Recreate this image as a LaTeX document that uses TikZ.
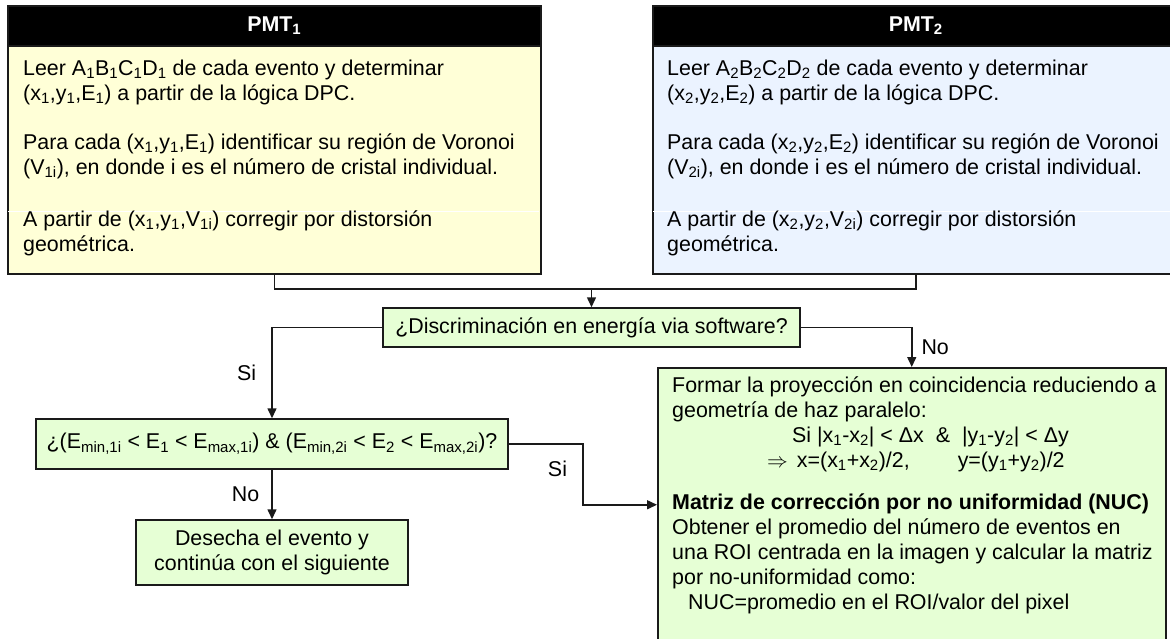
\documentclass[tikz,border=0pt]{standalone}
\usepackage{fontspec}
\setmainfont{Liberation Sans}
\usetikzlibrary{arrows.meta}

\definecolor{pmtone}{HTML}{FFFFD7}
\definecolor{pmttwo}{HTML}{EBF3FF}
\definecolor{decision}{HTML}{E6FFD5}
\definecolor{edge}{HTML}{1A1A1A}

\newcommand{\lo}[1]{\textsubscript{#1}}

\begin{document}
\begin{tikzpicture}[
  x=1pt, y=-1pt,
  every node/.style={font=\fontsize{21.4}{25}\selectfont, inner sep=0pt},
  header/.style={draw=edge, fill=black, text=white, line width=1.5pt, anchor=north west,
    font=\fontsize{21.4}{25}\selectfont\bfseries},
  panel/.style={draw=edge, line width=1.5pt, anchor=north west},
  question/.style={draw=edge, fill=decision, line width=1.5pt, align=center},
  body/.style={align=left, anchor=north west},
  link/.style={draw=edge, line width=1.5pt},
  arrow/.style={link, -{Triangle[length=10pt, width=9pt]}},
  seam/.style={draw=white, line width=0.8pt},
]
\useasboundingbox (0,0) rectangle (1170,638);
\clip (0,0) rectangle (1170,638);

\node[panel, fill=pmtone, minimum width=533pt, minimum height=228pt] (bodyA) at (7,45) {};
\node[header, minimum width=533pt, minimum height=40pt] (headA) at (7,5) {PMT\lo{1}};
\draw[seam] (8,211) -- (539,211);
\node[body] (textA) at (23,57.5) {\strut Leer A\lo{1}B\lo{1}C\lo{1}D\lo{1} de cada evento y determinar\\
  (x\lo{1},y\lo{1},E\lo{1}) a partir de la lógica DPC.\\[24pt]
  Para cada (x\lo{1},y\lo{1},E\lo{1}) identificar su región de Voronoi\\
  (V\lo{1i}), en donde i es el número de cristal individual.\\[27pt]
  A partir de (x\lo{1},y\lo{1},V\lo{1i}) corregir por distorsión\\
  geométrica.};

\node[panel, fill=pmttwo, minimum width=526pt, minimum height=228pt] (bodyB) at (652,45) {};
\node[header, minimum width=526pt, minimum height=40pt] (headB) at (652,5) {PMT\lo{2}};
\draw[seam] (653,211) -- (1170,211);
\node[body] (textB) at (667,57.5) {\strut Leer A\lo{2}B\lo{2}C\lo{2}D\lo{2} de cada evento y determinar\\
  (x\lo{2},y\lo{2},E\lo{2}) a partir de la lógica DPC.\\[24pt]
  Para cada (x\lo{2},y\lo{2},E\lo{2}) identificar su región de Voronoi\\
  (V\lo{2i}), en donde i es el número de cristal individual.\\[27pt]
  A partir de (x\lo{2},y\lo{2},V\lo{2i}) corregir por distorsión\\
  geométrica.};

\node[question, minimum width=417pt, minimum height=39pt] (discr) at (591.5,327.5)
  {¿Discriminación en energía via software?};
\node[question, minimum width=472pt, minimum height=50pt] (energy) at (272,444)
  {¿(E\lo{min,1i} < E\lo{1} < E\lo{max,1i}) \& (E\lo{min,2i} < E\lo{2} < E\lo{max,2i})?};
\node[question, minimum width=272pt, minimum height=65pt] (discard) at (272,552.5)
  {Desecha el evento y\\continúa con el siguiente};

\node[panel, fill=decision, minimum width=508pt, minimum height=274pt] (nuc) at (657,367) {};
\node[body] (textN) at (672,374.5) {\strut Formar la proyección en coincidencia reduciendo a\\
  geometría de haz paralelo:\\
  \hspace*{120pt}Si |x\lo{1}-x\lo{2}| < Δx\hspace*{12pt}\&\hspace*{12pt}|y\lo{1}-y\lo{2}| < Δy\\
  \hspace*{95pt}$\Rightarrow$\hspace*{9pt}x=(x\lo{1}+x\lo{2})/2,\hspace*{48pt}y=(y\lo{1}+y\lo{2})/2\\[17pt]
  \textbf{Matriz de corrección por no uniformidad (NUC)}\\
  Obtener el promedio del número de eventos en\\
  una ROI centrada en la imagen y calcular la matriz\\
  por no-uniformidad como:\\
  \hspace*{16pt}NUC=promedio en el ROI/valor del pixel};

\coordinate (join) at (discr.north |- 0,289);
\draw[link] (bodyA.south) |- (join) -| (bodyB.south);
\draw[arrow] (join) -- (discr.north);
\draw[arrow] (discr.west) -| node[pos=.75, left=15pt] {Si} (energy.north);
\draw[arrow] (discr.east) -| node[pos=.75, right=9pt] {No} (nuc.north);
\draw[arrow] (energy.south) -- node[left=12pt] {No} (discard.north);
\draw[arrow] (energy.east) -- ++(74,0) |- node[pos=.25, left=15pt, yshift=6pt] {Si} (nuc.west);
\end{tikzpicture}
\end{document}
